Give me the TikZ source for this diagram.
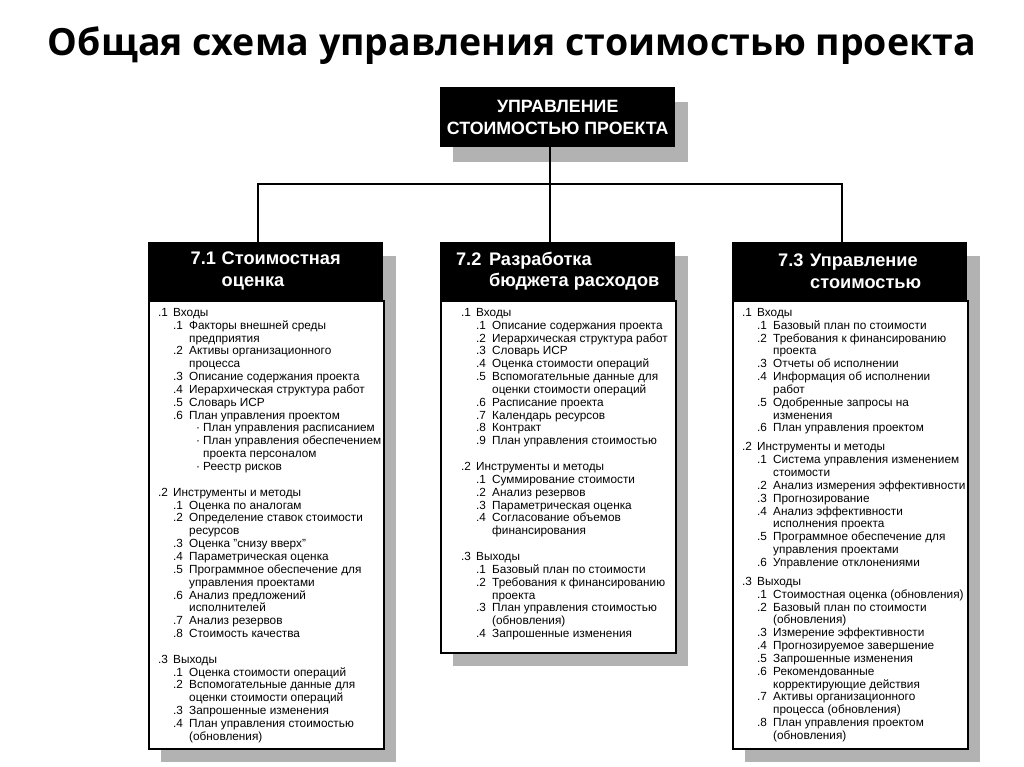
\documentclass[tikz,border=0pt]{standalone}
\usepackage{fontspec}
\setmainfont{Liberation Sans}
\newfontfamily\titlefont{Open Sans}
\definecolor{shade}{RGB}{178,178,178}
\newcommand\ItemA[2]{\makebox[15pt][l]{#1}#2}
\newcommand\ItemB[2]{\hspace*{15pt}\makebox[16pt][l]{#1}#2}
\newcommand\ItemC[1]{\hspace*{31pt}#1}
\newcommand\ItemD[1]{\hspace*{38pt}\makebox[7pt][l]{·}#1}
\newcommand\ItemE[1]{\hspace*{45pt}#1}
\begin{document}
\begin{tikzpicture}[x=1pt,y=-1pt,
  titlestyle/.style={font=\titlefont\bfseries\fontsize{37.5}{42}\selectfont,inner sep=0pt},
  topbox/.style={fill=black,text=white,anchor=north west,inner sep=0pt,
    minimum width=235pt,minimum height=60pt,align=center,
    font=\bfseries\fontsize{17.8}{22}\selectfont},
  headbox/.style={fill=black,text=white,anchor=north west,inner sep=0pt,
    minimum width=235pt,minimum height=58pt,align=left,
    font=\bfseries\fontsize{18.2}{21.5}\selectfont},
  bodybox/.style={fill=white,draw=black,line width=1.5pt,anchor=north west,
    inner sep=0pt,minimum width=235pt},
  bodytext/.style={anchor=north west,inner sep=0pt,align=left,
    font=\fontsize{11.8}{12.85}\selectfont},
  conn/.style={draw=black,line width=2pt},
  shadowfill/.style={fill=shade}
]
\useasboundingbox[fill=white] (0,0) rectangle (1024,767);

% title
\node[titlestyle] (title) at (512,46) {Общая схема управления стоимостью проекта};

% top box
\fill[shadowfill] (453,102) rectangle (688,162);
\node[topbox] (top) at (440,87) {УПРАВЛЕНИЕ\\СТОИМОСТЬЮ ПРОЕКТА};

% column shadows
\fill[shadowfill] (161,256) rectangle (396,762);
\fill[shadowfill] (453,256) rectangle (688,666);
\fill[shadowfill] (745,256) rectangle (980,762);

% headers
\node[headbox] (h1) at (148,242) {\makebox[31pt][l]{7.1}Стоимостная\\\hspace*{31pt}оценка};
\node[headbox] (h2) at (440,242) {\makebox[33pt][l]{7.2}Разработка\\\hspace*{33pt}бюджета расходов};
\node[headbox] (h3) at (732,242) {\makebox[32pt][l]{7.3}Управление\\\hspace*{32pt}стоимостью};

% connectors
\coordinate (bus) at (550,184);
\draw[conn] ([xshift=-7.5pt]top.south) -- ([xshift=-7.5pt]h2.north);
\draw[conn] ([xshift=-7.5pt]h1.north) |- (bus) -| ([xshift=-7.5pt]h3.north);

% bodies
\node[bodybox,minimum height=448pt] (b1) at (148,300) {};
\node[bodybox,minimum height=352pt] (b2) at (440,300) {};
\node[bodybox,minimum height=448pt] (b3) at (732,300) {};

\node[bodytext] (t1) at (158,308) {%
\ItemA{.1}{Входы}\\
\ItemB{.1}{Факторы внешней среды}\\
\ItemC{предприятия}\\
\ItemB{.2}{Активы организационного}\\
\ItemC{процесса}\\
\ItemB{.3}{Описание содержания проекта}\\
\ItemB{.4}{Иерархическая структура работ}\\
\ItemB{.5}{Словарь ИСР}\\
\ItemB{.6}{План управления проектом}\\
\ItemD{План управления расписанием}\\
\ItemD{План управления обеспечением}\\
\ItemE{проекта персоналом}\\
\ItemD{Реестр рисков}\\[12.85pt]
\ItemA{.2}{Инструменты и методы}\\
\ItemB{.1}{Оценка по аналогам}\\
\ItemB{.2}{Определение ставок стоимости}\\
\ItemC{ресурсов}\\
\ItemB{.3}{Оценка "снизу вверх"}\\
\ItemB{.4}{Параметрическая оценка}\\
\ItemB{.5}{Программное обеспечение для}\\
\ItemC{управления проектами}\\
\ItemB{.6}{Анализ предложений}\\
\ItemC{исполнителей}\\
\ItemB{.7}{Анализ резервов}\\
\ItemB{.8}{Стоимость качества}\\[12.85pt]
\ItemA{.3}{Выходы}\\
\ItemB{.1}{Оценка стоимости операций}\\
\ItemB{.2}{Вспомогательные данные для}\\
\ItemC{оценки стоимости операций}\\
\ItemB{.3}{Запрошенные изменения}\\
\ItemB{.4}{План управления стоимостью}\\
\ItemC{(обновления)}};

\node[bodytext] (t2) at (461,308) {%
\ItemA{.1}{Входы}\\
\ItemB{.1}{Описание содержания проекта}\\
\ItemB{.2}{Иерархическая структура работ}\\
\ItemB{.3}{Словарь ИСР}\\
\ItemB{.4}{Оценка стоимости операций}\\
\ItemB{.5}{Вспомогательные данные для}\\
\ItemC{оценки стоимости операций}\\
\ItemB{.6}{Расписание проекта}\\
\ItemB{.7}{Календарь ресурсов}\\
\ItemB{.8}{Контракт}\\
\ItemB{.9}{План управления стоимостью}\\[12.85pt]
\ItemA{.2}{Инструменты и методы}\\
\ItemB{.1}{Суммирование стоимости}\\
\ItemB{.2}{Анализ резервов}\\
\ItemB{.3}{Параметрическая оценка}\\
\ItemB{.4}{Согласование объемов}\\
\ItemC{финансирования}\\[12.85pt]
\ItemA{.3}{Выходы}\\
\ItemB{.1}{Базовый план по стоимости}\\
\ItemB{.2}{Требования к финансированию}\\
\ItemC{проекта}\\
\ItemB{.3}{План управления стоимостью}\\
\ItemC{(обновления)}\\
\ItemB{.4}{Запрошенные изменения}};

\node[bodytext] (t3) at (742,308) {%
\ItemA{.1}{Входы}\\
\ItemB{.1}{Базовый план по стоимости}\\
\ItemB{.2}{Требования к финансированию}\\
\ItemC{проекта}\\
\ItemB{.3}{Отчеты об исполнении}\\
\ItemB{.4}{Информация об исполнении}\\
\ItemC{работ}\\
\ItemB{.5}{Одобренные запросы на}\\
\ItemC{изменения}\\
\ItemB{.6}{План управления проектом}\\[6pt]
\ItemA{.2}{Инструменты и методы}\\
\ItemB{.1}{Система управления изменением}\\
\ItemC{стоимости}\\
\ItemB{.2}{Анализ измерения эффективности}\\
\ItemB{.3}{Прогнозирование}\\
\ItemB{.4}{Анализ эффективности}\\
\ItemC{исполнения проекта}\\
\ItemB{.5}{Программное обеспечение для}\\
\ItemC{управления проектами}\\
\ItemB{.6}{Управление отклонениями}\\[6pt]
\ItemA{.3}{Выходы}\\
\ItemB{.1}{Стоимостная оценка (обновления)}\\
\ItemB{.2}{Базовый план по стоимости}\\
\ItemC{(обновления)}\\
\ItemB{.3}{Измерение эффективности}\\
\ItemB{.4}{Прогнозируемое завершение}\\
\ItemB{.5}{Запрошенные изменения}\\
\ItemB{.6}{Рекомендованные}\\
\ItemC{корректирующие действия}\\
\ItemB{.7}{Активы организационного}\\
\ItemC{процесса (обновления)}\\
\ItemB{.8}{План управления проектом}\\
\ItemC{(обновления)}};
\end{tikzpicture}
\end{document}
